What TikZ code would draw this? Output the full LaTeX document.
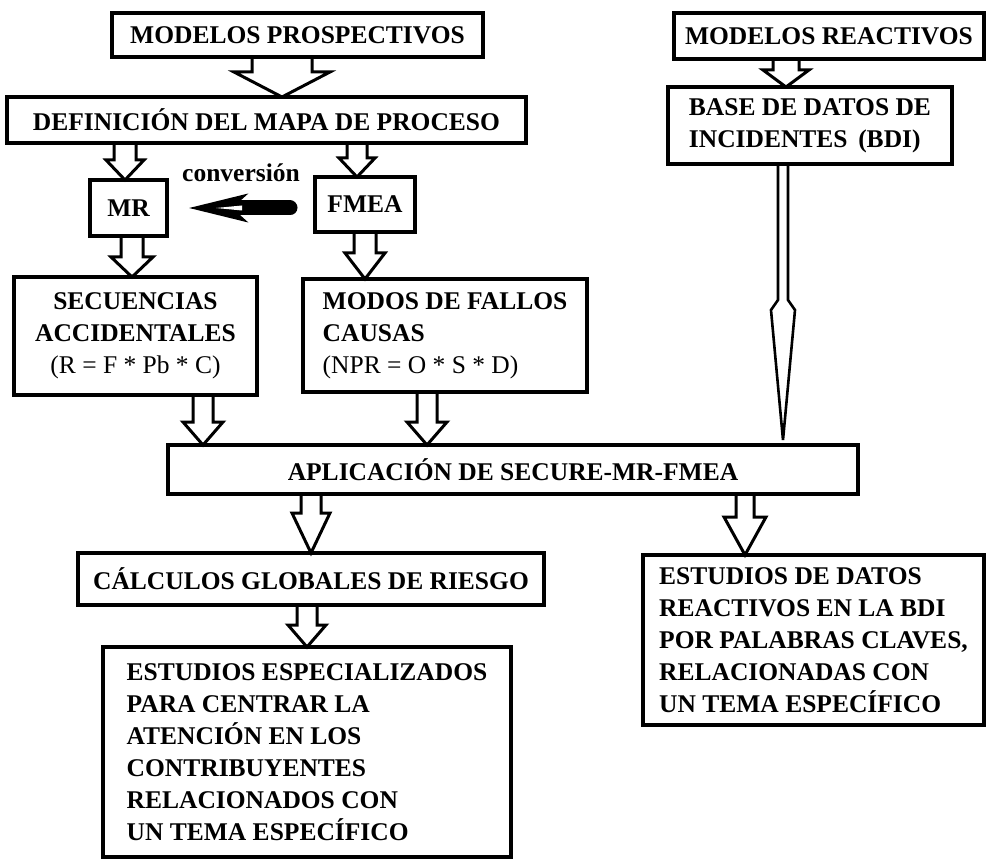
\documentclass[tikz,border=0pt]{standalone}
\usepackage{fontspec}
\setmainfont{Liberation Serif}
\usetikzlibrary{arrows.meta,calc}
\newcommand{\hollowarrow}[5]{%
  \draw[arrowline] let \p1=#1, \p2=#2 in
    (\x1-#3pt,\y1) -- (\x1-#3pt,\y2+#5pt) -- (\x1-#4pt,\y2+#5pt) -- (\x1,\y2)
    -- (\x1+#4pt,\y2+#5pt) -- (\x1+#3pt,\y2+#5pt) -- (\x1+#3pt,\y1);
}
\begin{document}
\begin{tikzpicture}[x=1pt,y=-1pt,
  box/.style={draw, line width=4pt, anchor=north west, inner sep=0pt, outer sep=0pt,
    font=\fontsize{25.5}{32}\selectfont\bfseries},
  arrowline/.style={line width=3pt, fill=white, line join=miter},
  lbl/.style={font=\fontsize{25.5}{32}\selectfont\bfseries, inner sep=0pt}
]
\useasboundingbox (0,0) rectangle (989,861);

% ---------- nodes ----------
\node[box, minimum width=371pt, minimum height=44pt] (prosp) at (112,13) {MODELOS PROSPECTIVOS};
\node[box, minimum width=519pt, minimum height=46pt] (def) at (7,97) {DEFINICIÓN DEL MAPA DE PROCESO};
\node[box, minimum width=310pt, minimum height=46pt] (react) at (674,13) {MODELOS REACTIVOS};
\node[box, minimum width=284pt, minimum height=77pt, align=left] (bdi) at (668,87) {BASE DE DATOS DE\\INCIDENTES \,(BDI)};
\node[box, minimum width=77pt, minimum height=56pt] (mr) at (90,180) {MR};
\node[box, minimum width=100pt, minimum height=55pt] (fmea) at (315,177) {FMEA};
\node[box, minimum width=243pt, minimum height=118pt, align=center] (sec) at (14,277)
  {SECUENCIAS\\ACCIDENTALES\\{\mdseries (R = F * Pb * C)}};
\node[box, minimum width=284pt, minimum height=113pt, align=left] (modos) at (303,279)
  {MODOS DE FALLOS\\CAUSAS\\{\mdseries (NPR = O * S * D)}};
\node[box, minimum width=690pt, minimum height=49pt] (apl) at (168,445) {APLICACIÓN DE SECURE-MR-FMEA};
\node[box, minimum width=466pt, minimum height=52pt] (calc) at (78,553) {CÁLCULOS GLOBALES DE RIESGO};
\node[box, minimum width=408pt, minimum height=210pt, align=left] (esp) at (103,647)
  {ESTUDIOS ESPECIALIZADOS\\PARA CENTRAR LA\\ATENCIÓN EN LOS\\CONTRIBUYENTES\\RELACIONADOS CON\\UN TEMA ESPECÍFICO};
\node[box, minimum width=341pt, minimum height=170pt, align=left] (estd) at (643,555)
  {ESTUDIOS DE DATOS\\REACTIVOS EN LA BDI\\POR PALABRAS CLAVES,\\RELACIONADAS CON\\UN TEMA ESPECÍFICO};
\node[lbl, anchor=base] (conv) at (241,182) {conversión};

% ---------- hollow block arrows ----------
\begin{scope}[on background layer/.style={}]
\hollowarrow{([xshift=-15.5pt]prosp.south)}{(def.north)}{30}{48}{25}
\hollowarrow{([xshift=-141.5pt]def.south)}{(mr.north)}{11}{19}{20}
\hollowarrow{([xshift=90.5pt]def.south)}{(fmea.north)}{10}{18}{19}
\hollowarrow{([xshift=3.5pt]mr.south)}{(sec.north)}{11}{21}{20}
\hollowarrow{(fmea.south)}{(modos.north)}{11}{20}{26}
\hollowarrow{([xshift=67.5pt]sec.south)}{(apl.north)}{10}{20}{23}
\hollowarrow{([xshift=-18pt]modos.south)}{(apl.north)}{10}{20}{23}
\hollowarrow{([xshift=-202pt]apl.south)}{(calc.north)}{10}{19}{40}
\hollowarrow{([xshift=232pt]apl.south)}{(estd.north)}{9}{21}{38}
\hollowarrow{([xshift=-4pt]calc.south)}{(esp.north)}{10}{19}{22}
\hollowarrow{([xshift=-43pt]react.south)}{(bdi.north)}{13}{23}{17}
\end{scope}

% long thin arrow from BDI to APLICACION
\draw[arrowline, line width=2.6pt] let \p1=([xshift=-27pt]bdi.south), \p2=(apl.north) in
  (\x1-5pt,\y1) -- (\x1-5pt,\y1-136pt) -- (\x1-12pt,\y1-146pt) -- (\x1,\y2+5pt)
  -- (\x1+12pt,\y1-146pt) -- (\x1+5pt,\y1-136pt) -- (\x1+5pt,\y1);

% conversion arrow (FMEA -> MR)
\draw[line width=15pt, line cap=round, shorten <=25pt, shorten >=21pt,
  -{Stealth[length=58pt,width=27pt,inset=14pt]}] (fmea.west |- mr.east) -- (mr.east);
\fill[white] (216,208) -- (242,205.5) -- (242,210.5) -- cycle;

% redraw box borders over arrow ends
\foreach \n in {prosp,def,react,bdi,mr,fmea,sec,modos,apl,calc,esp,estd}
  \draw[line width=4pt] (\n.north west) rectangle (\n.south east);
\end{tikzpicture}
\end{document}
